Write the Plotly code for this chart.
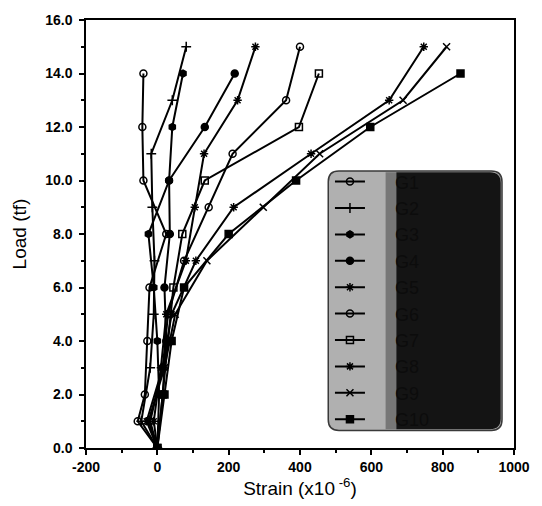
import plotly.graph_objects as go

# ---- data (load in tf, strain in x10^-6) ----
names = ["G1", "G2", "G3", "G4", "G5", "G6", "G7", "G8", "G9", "G10"]
symbols = ["circle-open", "cross-thin-open", "hexagon", "circle", "asterisk-open",
           "circle-open", "square-open", "asterisk-open", "x-thin-open", "square"]

load_even = [0, 2, 4, 6, 8, 10, 12, 14]
load_odd = [0, 1, 3, 5, 7, 9, 11, 13, 15]

load_a = [0, 1, 2, 4, 6, 8, 10, 12, 14]
strain_a = [0, -55, -35, -28, -22, 25, -39, -42, -39]
load_b = load_odd
strain_b = [0, -45, -20, -10, -8, -14, -17, 42, 81]
load_c = load_even
strain_c = [0, 5, 0, -10, -25, 33, 42, 72]
load_d = load_even
strain_d = [0, 15, 25, 20, 35, 33, 133, 217]
load_e = load_odd
strain_e = [0, -10, 10, 25, 80, 105, 131, 225, 275]
load_f = load_odd
strain_f = [0, -20, 15, 30, 75, 144, 211, 361, 400]
load_g = load_even
strain_g = [0, 15, 30, 45, 70, 133, 397, 453]
load_h = load_odd
strain_h = [0, -30, 15, 40, 108, 214, 431, 650, 747]
load_i = load_odd
strain_i = [0, -25, 20, 50, 139, 297, 455, 689, 811]
load_j = load_even
strain_j = [0, 20, 40, 75, 200, 389, 597, 850]

loads = [load_a, load_b, load_c, load_d, load_e, load_f, load_g, load_h, load_i, load_j]
strains = [strain_a, strain_b, strain_c, strain_d, strain_e, strain_f, strain_g, strain_h, strain_i, strain_j]

y_ticks = [0, 2, 4, 6, 8, 10, 12, 14, 16]
x_ticks = [-200, 0, 200, 400, 600, 800, 1000]
x_tick_labels = ["-200", "0", "200", "400", "600", "800", "1000"]

fig = go.Figure()
pad = "\u00a0" * 5
for nm, sym, ld, st in zip(names, symbols, loads, strains):
    fig.add_trace(go.Scatter(
        x=st, y=ld, name=pad + nm, mode="lines+markers",
        line=dict(color="black", width=2),
        marker=dict(symbol=sym, size=7, color="black", line=dict(color="black", width=1.5)),
    ))


def rounded(x0, x1, y0, y1, rx, ry, left=True, right=True):
    p = []
    if left:
        p.append(f"M{x0 + rx},{y1}")
    else:
        p.append(f"M{x0},{y1}")
    if right:
        p.append(f"L{x1 - rx},{y1} Q{x1},{y1} {x1},{y1 - ry} L{x1},{y0 + ry} Q{x1},{y0} {x1 - rx},{y0}")
    else:
        p.append(f"L{x1},{y1} L{x1},{y0}")
    if left:
        p.append(f"L{x0 + rx},{y0} Q{x0},{y0} {x0},{y0 + ry} L{x0},{y1 - ry} Q{x0},{y1} {x0 + rx},{y1} Z")
    else:
        p.append(f"L{x0},{y0} Z")
    return " ".join(p)


# legend background (grey-to-black box)
x0, x1, y0, y1 = 0.566, 0.972, 0.041, 0.647
rx, ry = 0.025, 0.025
fig.add_shape(type="path", xref="paper", yref="paper", path=rounded(x0, x1, y0, y1, rx, ry),
              fillcolor="#b0b0b0", line=dict(color="#3a3a3a", width=1.5), layer="above")
fig.add_shape(type="rect", xref="paper", yref="paper", x0=0.70, x1=0.725, y0=y0 + 0.003, y1=y1 - 0.003,
              fillcolor="#777777", line=dict(width=0), layer="above")
fig.add_shape(type="path", xref="paper", yref="paper",
              path=rounded(0.725, x1 - 0.003, y0 + 0.003, y1 - 0.003, rx, ry, left=False),
              fillcolor="#141414", line=dict(width=0), layer="above")

axis_common = dict(
    showline=True, linecolor="black", linewidth=1.5, mirror=True,
    ticks="outside", ticklen=5, tickwidth=1.5, tickcolor="black",
    showgrid=False, zeroline=False,
    tickfont=dict(family="Liberation Sans", size=14, color="black", weight="bold"),
)

fig.update_xaxes(range=[-200, 1000], tickvals=x_ticks, ticktext=x_tick_labels,
                 minor=dict(dtick=100, ticks="outside", ticklen=3, tickcolor="black"),
                 title=dict(text="Strain (x10<sup> -6</sup>)", font=dict(family="Liberation Sans", size=19, color="black"), standoff=6),
                 **axis_common)
fig.update_yaxes(range=[0, 16], tickvals=y_ticks, tickformat=".1f",
                 minor=dict(dtick=1, ticks="outside", ticklen=3, tickcolor="black"),
                 ticklabelstandoff=4,
                 title=dict(text="Load (tf)", font=dict(family="Liberation Sans", size=19, color="black"), standoff=14),
                 **axis_common)

fig.update_layout(
    width=542, height=506,
    margin=dict(l=86, r=25, t=14, b=56),
    plot_bgcolor="white", paper_bgcolor="white",
    showlegend=True,
    legend=dict(x=0.57, y=0.665, xanchor="left", yanchor="top",
                bgcolor="rgba(0,0,0,0)", borderwidth=0,
                font=dict(family="Liberation Sans", size=18, color="#0c0c0c"),
                itemwidth=30, tracegroupgap=0),
)

fig.write_html("out.html")
